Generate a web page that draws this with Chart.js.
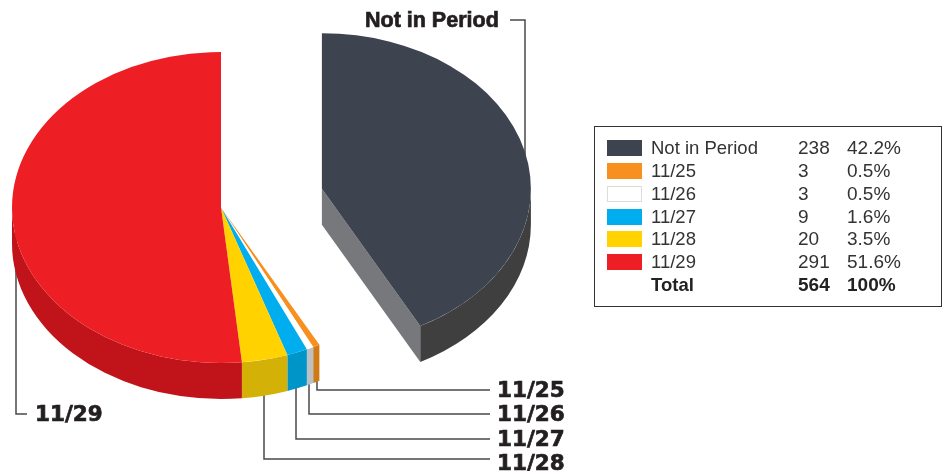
<!DOCTYPE html>
<html>
<head>
<meta charset="utf-8">
<style>
  html, body { margin: 0; padding: 0; background: #fff; }
  #wrap { position: relative; width: 946px; height: 471px; overflow: hidden; }
  #chart { position: absolute; left: 0; top: 0; }
  #legendBox { position: absolute; left: 594px; top: 126px; width: 346px; height: 179px; border: 1.5px solid #333; box-sizing: content-box; }
  .cell { position: absolute; font: 18.5px "Liberation Sans", sans-serif; color: #333; line-height: 20px; white-space: nowrap; }
  .num { font-size: 19px; }
  .total { font-weight: bold; color: #222; }
  .swatch { position: absolute; width: 35px; height: 16px; box-sizing: border-box; }
</style>
<script src="https://cdn.jsdelivr.net/npm/chart.js@4"></script>
</head>
<body>
<div id="wrap">
  <canvas id="chart" width="946" height="471"></canvas>
  <div id="legendBox"></div>
</div>
<script>
const categories = ["Not in Period", "11/25", "11/26", "11/27", "11/28", "11/29"];
const counts = [238, 3, 3, 9, 20, 291];
const percents = ["42.2%", "0.5%", "0.5%", "1.6%", "3.5%", "51.6%"];
const totalRow = ["Total", "564", "100%"];
const topColors = ["#3e4350", "#f7901e", "#ffffff", "#00aeef", "#ffd200", "#ed1f24"];
const sideColors = ["#3f3f3f", "#cf7a17", "#bcbfc4", "#0095c8", "#d4b106", "#c0141a"];
const pullOut = [104, 0, 0, 0, 0, 0];

const SQUASH = 0.744;
const DEPTH = 36 / SQUASH;

// leader lines sit behind the pie, labels are plain canvas text
function drawLeaders(ctx) {
  const lines = [
    [[510, 20], [525, 20], [525, 175]],
    [[16, 230], [16, 414], [27, 414]],
    [[317, 375], [317, 390], [490, 390]],
    [[309, 375], [309, 414], [490, 414]],
    [[296, 380], [296, 439], [490, 439]],
    [[264, 390], [264, 459], [490, 459]],
  ];
  ctx.save();
  ctx.strokeStyle = "#4a4a4a";
  ctx.lineWidth = 1.5;
  lines.forEach((pts) => {
    ctx.beginPath();
    pts.forEach((p, i) => (i ? ctx.lineTo(p[0], p[1]) : ctx.moveTo(p[0], p[1])));
    ctx.stroke();
  });
  ctx.restore();
}

function heavyText(ctx, text, x, y) {
  ctx.fillText(text, x, y);
  ctx.strokeText(text, x, y);
}

function drawLabels(ctx) {
  ctx.save();
  ctx.fillStyle = "#231f20";
  ctx.strokeStyle = "#231f20";
  ctx.lineWidth = 0.7;
  ctx.textBaseline = "middle";
  ctx.font = 'bold 21.5px "Liberation Sans"';
  heavyText(ctx, categories[0], 365, 21);
  ctx.font = 'bold 21.5px "DejaVu Sans"';
  heavyText(ctx, categories[5], 35, 415);
  heavyText(ctx, categories[1], 497, 391);
  heavyText(ctx, categories[2], 497, 415);
  heavyText(ctx, categories[3], 497, 440);
  heavyText(ctx, categories[4], 497, 464);
  ctx.restore();
}

const pie3d = {
  id: "pie3d",
  // slide pulled out slices along their mid angle, the arc offset option reshapes them instead
  afterDatasetsUpdate(chart) {
    chart.getDatasetMeta(0).data.forEach((arc, i) => {
      const mid = (arc.startAngle + arc.endAngle) / 2;
      arc.x += Math.cos(mid) * pullOut[i];
      arc.y += Math.sin(mid) * pullOut[i];
    });
  },
  // extruded walls, drawn in the squashed space the pie itself is drawn in
  beforeDatasetsDraw(chart) {
    const ctx = chart.ctx;
    drawLeaders(ctx);
    const cy = (chart.chartArea.top + chart.chartArea.bottom) / 2;
    ctx.save();
    ctx.translate(0, cy);
    ctx.scale(1, SQUASH);
    ctx.translate(0, -cy);
    chart.getDatasetMeta(0).data.forEach((arc, i) => {
      const r = arc.outerRadius;
      // the cut face of the pulled out slice
      if (pullOut[i] > 0) {
        const ex = arc.x + Math.cos(arc.endAngle) * r;
        const ey = arc.y + Math.sin(arc.endAngle) * r;
        ctx.fillStyle = "#77787c";
        ctx.beginPath();
        ctx.moveTo(arc.x, arc.y);
        ctx.lineTo(ex, ey);
        ctx.lineTo(ex, ey + DEPTH);
        ctx.lineTo(arc.x, arc.y + DEPTH);
        ctx.closePath();
        ctx.fill();
      }
      const a = Math.max(arc.startAngle, 0);
      const b = Math.min(arc.endAngle, Math.PI);
      if (b <= a) return;
      ctx.fillStyle = sideColors[i];
      ctx.beginPath();
      ctx.arc(arc.x, arc.y, r, a, b);
      ctx.arc(arc.x, arc.y + DEPTH, r, b, a, true);
      ctx.closePath();
      ctx.fill();
    });
  },
  afterDatasetsDraw(chart) {
    chart.ctx.restore();
    drawLabels(chart.ctx);
  },
};

const chart = new Chart(document.getElementById("chart"), {
  type: "pie",
  data: {
    labels: categories,
    datasets: [
      {
        data: counts,
        backgroundColor: topColors,
        borderWidth: 0,
        clip: false,
      },
    ],
  },
  options: {
    responsive: false,
    devicePixelRatio: 1,
    animation: false,
    radius: 209,
    layout: { padding: { left: 0, right: 504, top: 0, bottom: 56 } },
    events: [],
    plugins: { legend: { display: false }, tooltip: { enabled: false } },
  },
  plugins: [pie3d],
});

// table legend on the right
const wrap = document.getElementById("wrap");
const rowY = [148, 171, 194, 217, 239, 262, 285];

function addCell(text, x, y, cls) {
  const el = document.createElement("div");
  el.className = "cell" + (cls ? " " + cls : "");
  el.textContent = text;
  el.style.left = x + "px";
  el.style.top = y - 10 + "px";
  wrap.appendChild(el);
}

categories.forEach((name, i) => {
  const sw = document.createElement("div");
  sw.className = "swatch";
  sw.style.left = "607px";
  sw.style.top = rowY[i] - 8 + "px";
  sw.style.background = topColors[i];
  if (topColors[i] === "#ffffff") sw.style.border = "1.5px solid #dcdcdc";
  wrap.appendChild(sw);
  addCell(name, 651, rowY[i]);
  addCell(String(counts[i]), 798, rowY[i], "num");
  addCell(percents[i], 847, rowY[i], "num");
});
addCell(totalRow[0], 651, rowY[6], "total");
addCell(totalRow[1], 798, rowY[6], "num total");
addCell(totalRow[2], 847, rowY[6], "num total");
</script>
</body>
</html>
